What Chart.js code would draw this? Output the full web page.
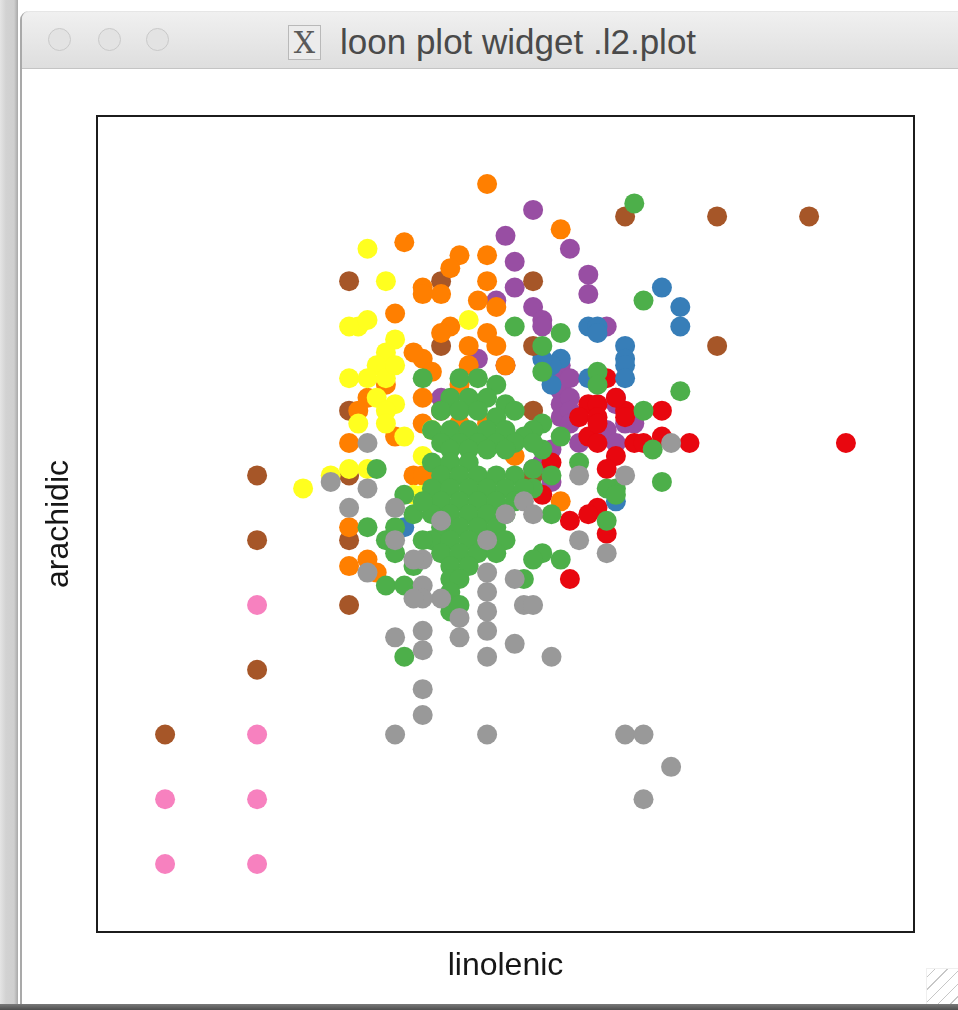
<!DOCTYPE html>
<html>
<head>
<meta charset="utf-8">
<title>loon plot widget .l2.plot</title>
<script src="https://cdn.jsdelivr.net/npm/chart.js@4.4.1/dist/chart.umd.min.js"></script>
<style>
  html, body { margin: 0; padding: 0; background: #ffffff; width: 958px; height: 1010px; overflow: hidden; position: relative; }
  #desk { position: absolute; left: 0; top: 0; width: 18px; height: 1010px; background: linear-gradient(90deg, #e4e4e4 0px, #d2d2d2 6px, #cfcfcf 14px, #a8a8a8 18px); }
  #win { position: absolute; left: 20px; top: 11px; width: 960px; height: 993px; background: #ffffff; border-left: 2px solid #a9a9a9; border-top-left-radius: 9px; }
  #titlebar { position: absolute; left: 0; top: 0; right: 0; height: 56px; border-top-left-radius: 8px;
    background: linear-gradient(#f0f0f0, #dedede); border-bottom: 1px solid #c4c4c4; border-top: 1px solid #e6e6e6; }
  .light { position: absolute; top: 16px; width: 23px; height: 23px; border-radius: 50%; background: #e3e3e3; border: 1px solid #c9c9c9; box-sizing: border-box; }
  #icon { position: absolute; left: 266px; top: 13px; width: 33px; height: 35px; box-sizing: border-box; border: 1px solid #b9b9b9; background: #ececec;
    font-family: "DejaVu Serif", serif; font-size: 30px; line-height: 33px; text-align: center; color: #5a5a5a; }
  #title { position: absolute; left: 318px; top: 7px; font-family: "Liberation Sans", Arial, sans-serif; font-size: 35px; line-height: 46px; color: #4a4a4a; white-space: nowrap; }
  #content { position: absolute; left: 0; top: 57px; width: 936px; height: 935px; }
  #chart { position: absolute; left: 0; top: 0; }
  #grip { position: absolute; left: 904px; top: 957px; width: 40px; height: 36px; box-sizing: border-box; border-left: 1px solid #e2e2e2; border-top: 1px solid #e2e2e2;
    background: repeating-linear-gradient(135deg, transparent 0px, transparent 5px, #9a9a9a 5px, #9a9a9a 6px, transparent 6px, transparent 9px); opacity: 0.55; }
  #shadow { position: absolute; left: 0; top: 1004px; width: 958px; height: 6px; background: linear-gradient(#7a7a7a, #4e4e4e); }
</style>
</head>
<body>
<div id="desk"></div>
<div id="win">
  <div id="titlebar">
    <div class="light" style="left:26px"></div>
    <div class="light" style="left:76px"></div>
    <div class="light" style="left:124px"></div>
    <div id="icon">X</div>
    <div id="title">loon plot widget .l2.plot</div>
  </div>
  <div id="content"><canvas id="chart" width="936" height="935"></canvas></div>
  <div id="grip"></div>
</div>
<div id="shadow"></div>

<script>
// Axis names
const xName = 'linolenic';
const yName = 'arachidic';

// Point groups: [linolenic, arachidic] pairs, one array per colour group
const grayPoints = [
  [25,20],[35,20],[50,20],[52,20],[55,15],[52,10],[28,27],[28,23],
  [35,36],[35,32],[38,34],[42,32],[25,35],[28,36],[32,35],[28,33],[32,38],
  [35,45],[35,42],[35,39],[39,40],[38,44],[28,47],[30,53],[35,50],[37,54],
  [39,56],[28,43],[30,41],[28,41],[18,59],[22,58],[20,55],[25,55],[22,45],
  [27,41],[22,65],[25,50],[27,47],[45,60],[50,60],[45,50],[48,48],[40,54],
  [40,40],[55,65]
];
const greenPoints = [
  [51,102],[52,87],[38,83],[43,82],[41,80],[41,76],[47,76],[47,74],[56,73],
  [52,70],[53,64],[54,59],[49,58],[45,62],[41,68],[40,67],[43,47],[41,48],
  [40,47],[39,44],[26,32],[31,39],[48,58],[48,53],[49,57],[42,54],[40,58],
  [39,66],[41,64],[40,61],[42,60],[43,66],
  [32,75],[34,75],[36,74],[31,72],[33,72],[35,72],[37,71],[30,70],[32,70],
  [34,70],[36,69],[38,70],[28,75],
  [29,67],[31,67],[33,67],[35,67],[37,67],
  [30,65],[32,65],[34,65],[36,65],[38,65],[40,65],
  [31,64],[33,64],[35,64],[37,64],
  [29,62],[31,62],[33,62],
  [30,60],[32,60],[34,60],[36,60],[38,60],
  [29,58],[31,58],[33,58],[35,58],[37,58],[39,58],
  [30,56],[32,56],[34,56],[36,56],[38,56],
  [29,54],[31,54],[33,54],[35,54],[37,54],
  [30,52],[32,52],[34,52],[36,52],
  [29,50],[31,50],[33,50],[35,50],[37,50],
  [30,48],[32,48],[34,48],[36,48],
  [31,46],[33,46],[31,44],[32,44],[31,42],[31,40],[32,40],
  [24,50],[25,48],[27,46],[24,43],[26,43],[22,52],[27,54],[23,61],[26,57],
  [25,52],[28,56],[28,50]
];
const yellowPoints = [
  [22,95],[24,90],[21,83],[20,83],[22,84],[25,81],[24,79],[23,77],[20,75],
  [22,75],[24,75],[25,77],[23,72],[25,71],[24,70],[33,84],[29,67],[28,57],
  [28,63],[15,58],[18,60],[22,61],[20,61],[21,68],[24,68],[27,57],[26,66]
];
const orangePoints = [
  [35,105],[26,96],[32,94],[35,94],[31,92],[28,89],[30,88],[28,88],[25,85],
  [35,90],[34,87],[36,86],[31,83],[30,82],[33,80],[35,82],[36,80],[37,77],
  [33,77],[32,74],[28,78],[29,76],[28,72],[27,79],[22,72],[24,74],[21,70],
  [20,65],[25,66],[28,68],[27,60],[20,52],[22,47],[20,46],[23,45],[28,60],
  [32,68],[35,68],[38,63],[43,56],[43,98]
];
const brownPoints = [
  [50,100],[60,100],[70,100],[60,80],[20,90],[30,90],[40,90],[30,80],[40,80],
  [30,70],[40,70],[20,70],[20,60],[30,60],[40,60],[20,50],[30,50],[20,40],
  [10,60],[10,50],[10,30],[0,20]
];
const pinkPoints = [
  [0,0],[10,0],[0,10],[10,10],[10,20],[10,40]
];
const bluePoints = [
  [54,89],[56,86],[56,83],[46,83],[47,83],[47,82],[50,80],[50,78],[50,77],
  [50,75],[43,78],[42,77],[42,74],[46,75],[26,52],[49,56],[41,78]
];
const redPoints = [
  [74,65],[57,65],[54,70],[54,66],[50,70],[51,65],[49,63],[48,61],[46,71],
  [47,71],[45,69],[47,69],[46,66],[47,65],[48,75],[42,62],[41,57],[44,53],
  [44,44],[48,51],[47,55],[46,54],[52,65],[49,72],[50,69],[47,68]
];
const purplePoints = [
  [40,101],[37,97],[38,93],[38,89],[40,86],[36,87],[34,78],[37,77],[30,72],
  [44,95],[46,91],[46,88],[41,84],[48,83],[49,72],[43,77],[43,75],[43,73],
  [43,71],[43,69],[44,75],[44,72],[44,70],[44,68],[41,83],[49,71],[51,68],
  [48,67],[49,65],[45,65],[42,64],[41,62],[42,59],[50,68],[40,61]
];

// Drawing order (later groups sit on top) and colours
const groups = [
  { name: 'gray',   color: '#999999', points: grayPoints },
  { name: 'green',  color: '#4DAF4A', points: greenPoints },
  { name: 'yellow', color: '#FFFF1F', points: yellowPoints },
  { name: 'orange', color: '#FF7F00', points: orangePoints },
  { name: 'brown',  color: '#A65628', points: brownPoints },
  { name: 'pink',   color: '#F781BF', points: pinkPoints },
  { name: 'blue',   color: '#377EB8', points: bluePoints },
  { name: 'red',    color: '#E8070F', points: redPoints },
  { name: 'purple', color: '#984EA3', points: purplePoints }
];

// Data ranges padded by 10% on each side
const xMin = 0, xMax = 74, yMin = 0, yMax = 105;
const xPad = (xMax - xMin) * 0.1, yPad = (yMax - yMin) * 0.1;

// Black frame around the plotting region
const framePlugin = {
  id: 'plotFrame',
  afterDraw(chart) {
    const { ctx, chartArea: a } = chart;
    ctx.save();
    ctx.strokeStyle = '#1c1c1c';
    ctx.lineWidth = 2;
    ctx.strokeRect(a.left, a.top, a.right - a.left, a.bottom - a.top);
    ctx.restore();
  }
};

const labelFont = { family: '"Liberation Sans", Arial, sans-serif', size: 32, lineHeight: 1.2 };

new Chart(document.getElementById('chart'), {
  type: 'scatter',
  data: {
    datasets: groups.map(g => ({
      label: g.name,
      data: g.points.map(([x, y]) => ({ x, y })),
      backgroundColor: g.color,
      borderWidth: 0,
      pointRadius: 10,
      pointHoverRadius: 10,
      pointBorderWidth: 0
    }))
  },
  options: {
    responsive: false,
    animation: false,
    events: [],
    layout: { padding: { top: 48, right: 44, left: 0, bottom: 0 } },
    plugins: { legend: { display: false }, tooltip: { enabled: false } },
    scales: {
      x: {
        type: 'linear',
        min: xMin - xPad, max: xMax + xPad,
        ticks: { display: false },
        grid: { display: false, drawTicks: false },
        border: { display: false },
        title: { display: true, text: xName, color: '#161616', font: labelFont, padding: { top: 0, bottom: 18 } },
        afterFit(scale) { scale.height = 71; }
      },
      y: {
        type: 'linear',
        min: yMin - yPad, max: yMax + yPad,
        ticks: { display: false },
        grid: { display: false, drawTicks: false },
        border: { display: false },
        title: { display: true, text: yName, color: '#161616', font: labelFont, padding: { top: 18, bottom: 0 } },
        afterFit(scale) { scale.width = 75; }
      }
    }
  },
  plugins: [framePlugin]
});
</script>
</body>
</html>
